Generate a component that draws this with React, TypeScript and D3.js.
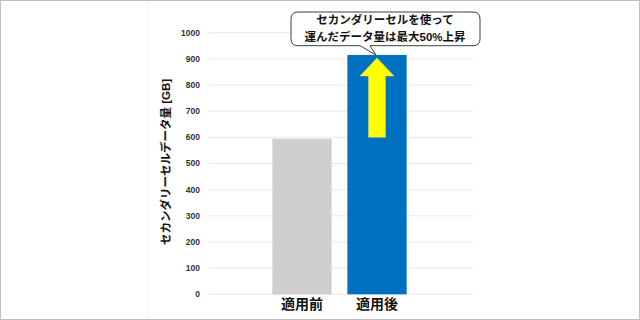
import React from "react";
import * as d3 from "d3";

const categories = ["適用前", "適用後"];
const values = [595, 915];
const barColors = ["#D0CECE", "#0070C0"];
const yTicks = [0, 100, 200, 300, 400, 500, 600, 700, 800, 900, 1000];
const yTitle = "セカンダリーセルデータ量 [GB]";
const calloutLines = ["セカンダリーセルを使って", "運んだデータ量は最大50%上昇"];
const arrowFrom = 600;
const arrowTo = 905;

const W = 640;
const H = 320;
const FONT = "'Liberation Sans', Arial, 'Noto Sans CJK JP', sans-serif";

export default function App() {
  const y = d3.scaleLinear().domain([0, 1000]).range([294.3, 32.7]);
  const x = d3
    .scaleBand<string>()
    .domain(categories)
    .range([264.5, 414.5])
    .paddingInner(0.21)
    .paddingOuter(0.105);

  const gridX0 = 209;
  const gridX1 = 473;

  // arrow geometry (over second bar)
  const bx = x(categories[1])! + x.bandwidth() / 2;
  const shaftHalf = 8.5;
  const headHalf = 17;
  const yBottom = y(arrowFrom);
  const yTip = y(arrowTo) + 0.5;
  const yHead = yTip + 18;
  const arrowPath = [
    [bx - shaftHalf, yBottom],
    [bx - shaftHalf, yHead],
    [bx - headHalf, yHead],
    [bx, yTip],
    [bx + headHalf, yHead],
    [bx + shaftHalf, yHead],
    [bx + shaftHalf, yBottom],
  ];
  const arrowD = d3.line()(arrowPath as [number, number][]) + "Z";

  // callout
  const cx0 = 291, cx1 = 480, cy0 = 12, cy1 = 45.7, r = 7;
  const pTipX = 376, pTipY = 55;
  const pb0 = 360, pb1 = 370;
  const calloutD = [
    `M${cx0 + r},${cy0}`,
    `H${cx1 - r}`,
    `Q${cx1},${cy0} ${cx1},${cy0 + r}`,
    `V${cy1 - r}`,
    `Q${cx1},${cy1} ${cx1 - r},${cy1}`,
    `H${pb1}`,
    `L${pTipX},${pTipY}`,
    `L${pb0},${cy1}`,
    `H${cx0 + r}`,
    `Q${cx0},${cy1} ${cx0},${cy1 - r}`,
    `V${cy0 + r}`,
    `Q${cx0},${cy0} ${cx0 + r},${cy0}`,
    "Z",
  ].join(" ");

  return (
    <div style={{ position: "absolute", left: 0, top: 0 }}>
      <style>{`body{margin:0}`}</style>
      <svg width={W} height={H} style={{ display: "block" }} fontFamily={FONT}>
        <rect x={0} y={0} width={W} height={H} fill="#ffffff" />
        <line x1={147.5} x2={147.5} y1={1} y2={H - 1} stroke="#f3f3f3" />
        {yTicks.map((t) => (
          <g key={t}>
            <line x1={gridX0} x2={gridX1} y1={y(t)} y2={y(t)} stroke="#e9e9e9" strokeWidth={1} />
            <text
              x={200}
              y={y(t)}
              dy="0.35em"
              textAnchor="end"
              fontSize={8.5}
              fontWeight="bold"
              fill="#333333"
            >
              {t}
            </text>
          </g>
        ))}
        {categories.map((c, i) => (
          <rect
            key={c}
            x={x(c)}
            y={y(values[i])}
            width={x.bandwidth()}
            height={y(0) - y(values[i])}
            fill={barColors[i]}
          />
        ))}
        {categories.map((c) => (
          <text
            key={c}
            x={x(c)! + x.bandwidth() / 2}
            y={304}
            dy="0.36em"
            textAnchor="middle"
            fontSize={14}
            fontWeight="bold"
            fill="#111111"
          >
            {c}
          </text>
        ))}
        <text
          transform={`translate(166,${162}) rotate(-90)`}
          textAnchor="middle"
          dy="0.36em"
          fontSize={11.5}
          fontWeight="bold"
          fill="#111111"
        >
          {yTitle}
        </text>
        <path d={arrowD} fill="#FFFF00" stroke="#d8d870" strokeWidth={0.5} />
        <path d={calloutD} fill="#ffffff" stroke="#404040" strokeWidth={1} />
        {calloutLines.map((l, i) => (
          <text
            key={i}
            x={385}
            y={20 + i * 16.5}
            dy="0.36em"
            textAnchor="middle"
            fontSize={11.5}
            fontWeight="bold"
            fill="#111111"
          >
            {l}
          </text>
        ))}
        <rect x={0.5} y={0.5} width={W - 1} height={H - 1} fill="none" stroke="#bdbdbd" strokeWidth={1} />
      </svg>
    </div>
  );
}
